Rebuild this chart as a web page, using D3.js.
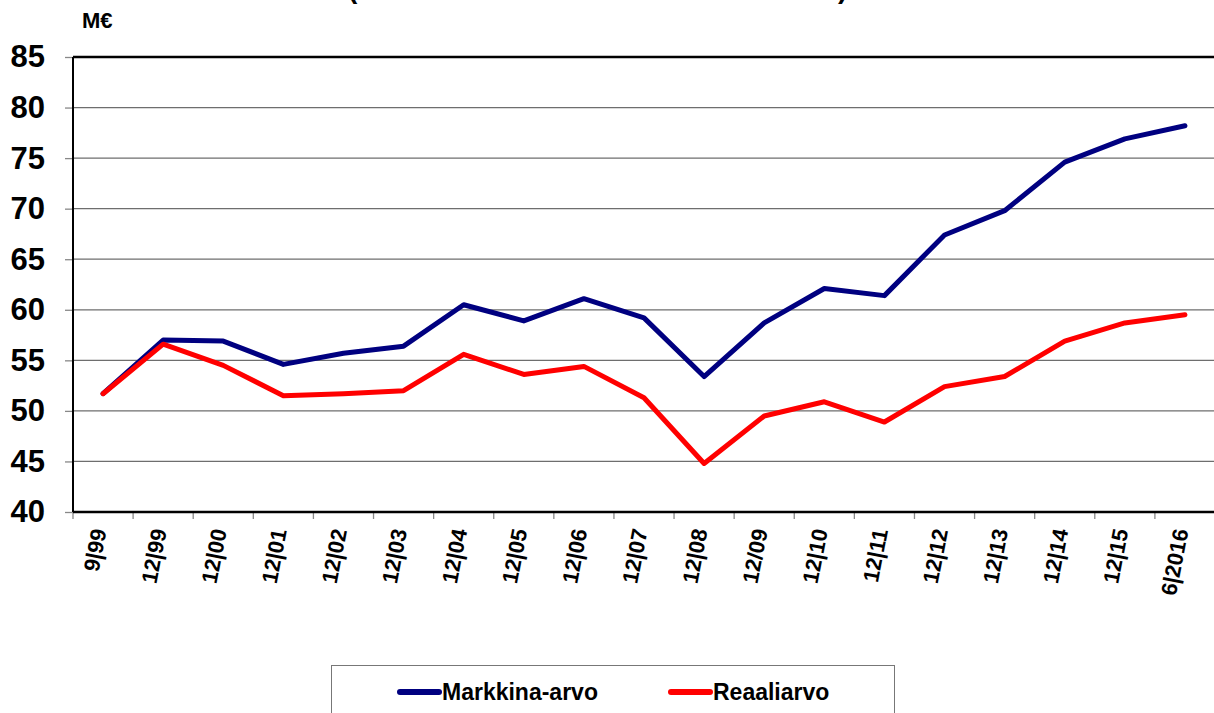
<!DOCTYPE html>
<html>
<head>
<meta charset="utf-8">
<script src="https://cdn.jsdelivr.net/npm/d3@7"></script>
<style>
  body { margin: 0; background: #fff; }
  svg { display: block; font-family: "Liberation Sans", Arial, sans-serif; }
</style>
</head>
<body>
<svg id="chart" width="1214" height="713"></svg>
<script>
// DATA
var categories = ['9|99', '12|99', '12|00', '12|01', '12|02', '12|03', '12|04', '12|05', '12|06', '12|07',
                  '12|08', '12/09', '12|10', '12|11', '12|12', '12|13', '12|14', '12|15', '6|2016'];
var markkinaArvo = [51.7, 57.0, 56.9, 54.6, 55.7, 56.4, 60.5, 58.9, 61.1, 59.2,
                    53.4, 58.7, 62.1, 61.4, 67.4, 69.8, 74.6, 76.9, 78.2];
var reaaliarvo   = [51.7, 56.6, 54.5, 51.5, 51.7, 52.0, 55.6, 53.6, 54.4, 51.3,
                    44.8, 49.5, 50.9, 48.9, 52.4, 53.4, 56.9, 58.7, 59.5];
var yTicks = [40, 45, 50, 55, 60, 65, 70, 75, 80, 85];
var seriesNames = ['Markkina-arvo', 'Reaaliarvo'];

// SETTINGS
var settings = {
   plot: { left: 73, right: 1215, top: 57, bottom: 512 },
   colors: ['#000080', '#ff0000'],
   lineWidth: 5
};

var svg = d3.select('#chart');
var p = settings.plot;

// SCALES
var x = d3.scaleBand().domain(categories).range([p.left, p.right]).padding(0);
var y = d3.scaleLinear().domain([40, 85]).range([p.bottom, p.top]);

// GRIDLINES
svg.append('g').selectAll('line')
   .data(yTicks.filter(function (d) { return d > 40 && d < 85; }))
   .join('line')
   .attr('x1', p.left).attr('x2', p.right)
   .attr('y1', function (d) { return y(d); })
   .attr('y2', function (d) { return y(d); })
   .attr('stroke', '#6e6e6e').attr('stroke-width', 1.3);

// Y AXIS
var yAxis = svg.append('g')
   .attr('transform', 'translate(' + p.left + ',0)')
   .call(d3.axisLeft(y).tickValues(yTicks).tickSize(8).tickPadding(20));
yAxis.select('.domain').remove();
yAxis.selectAll('.tick line').attr('stroke', '#888').attr('stroke-width', 1.3);
yAxis.selectAll('.tick text')
   .attr('font-size', 31).attr('font-weight', 'bold').attr('fill', '#000')
   .attr('font-family', '"Liberation Sans", Arial, sans-serif');

// X AXIS TICKS (BETWEEN CATEGORIES)
svg.append('g').selectAll('line')
   .data(categories)
   .join('line')
   .attr('x1', function (d) { return x(d); })
   .attr('x2', function (d) { return x(d); })
   .attr('y1', p.bottom).attr('y2', p.bottom + 7)
   .attr('stroke', '#888').attr('stroke-width', 1.3);

// X LABELS
svg.append('g').selectAll('text')
   .data(categories)
   .join('text')
   .attr('transform', function (d) {
      return 'translate(' + (x(d) + x.bandwidth() / 2 - 4) + ',' + (p.bottom + 17) + ') rotate(-79)';
   })
   .attr('text-anchor', 'end')
   .attr('dy', '0.35em')
   .attr('font-size', 22).attr('font-weight', 'bold')
   .text(function (d) { return d; });

// PLOT FRAME
svg.append('line').attr('x1', p.left).attr('x2', p.right).attr('y1', p.top).attr('y2', p.top)
   .attr('stroke', '#000').attr('stroke-width', 2.5);
svg.append('line').attr('x1', p.left).attr('x2', p.right).attr('y1', p.bottom).attr('y2', p.bottom)
   .attr('stroke', '#000').attr('stroke-width', 2.5);
svg.append('line').attr('x1', p.left).attr('x2', p.left).attr('y1', p.top).attr('y2', p.bottom)
   .attr('stroke', '#000').attr('stroke-width', 2);

// LINES
var line = d3.line()
   .x(function (d, i) { return x(categories[i]) + x.bandwidth() / 2; })
   .y(function (d) { return y(d); });

[markkinaArvo, reaaliarvo].forEach(function (values, k) {
   svg.append('path')
      .datum(values)
      .attr('fill', 'none')
      .attr('stroke', settings.colors[k])
      .attr('stroke-width', settings.lineWidth)
      .attr('stroke-linejoin', 'round')
      .attr('stroke-linecap', 'round')
      .attr('d', line);
});

// UNIT LABEL
svg.append('text').attr('x', 82).attr('y', 28)
   .attr('font-size', 22).attr('font-weight', 'bold').text('M€');

// TITLE (CUT OFF AT TOP IN THE REFERENCE)
svg.append('text').attr('x', 348).attr('y', -2)
   .attr('font-size', 28).attr('font-weight', 'bold').text('(');
svg.append('text').attr('x', 838).attr('y', -2)
   .attr('font-size', 28).attr('font-weight', 'bold').text(')');

// LEGEND
var legend = svg.append('g');
legend.append('rect')
   .attr('x', 331.5).attr('y', 665.5).attr('width', 563).attr('height', 60)
   .attr('fill', '#fff').attr('stroke', '#777').attr('stroke-width', 1);

var legendX = [398, 669];
seriesNames.forEach(function (name, k) {
   legend.append('line')
      .attr('x1', legendX[k] + 2).attr('x2', legendX[k] + 41)
      .attr('y1', 692).attr('y2', 692)
      .attr('stroke', settings.colors[k]).attr('stroke-width', 6)
      .attr('stroke-linecap', 'round');
   legend.append('text')
      .attr('x', legendX[k] + 44).attr('y', 700)
      .attr('font-size', 23).attr('font-weight', 'bold')
      .text(name);
});
</script>
</body>
</html>
